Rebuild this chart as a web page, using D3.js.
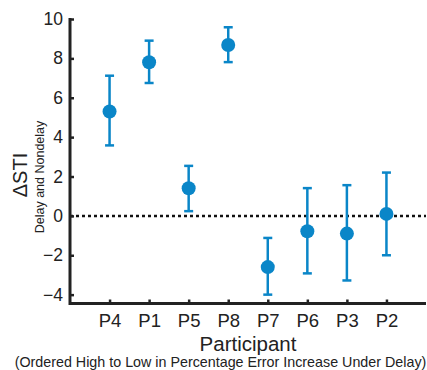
<!DOCTYPE html>
<html>
<head>
<meta charset="utf-8">
<script src="https://cdn.jsdelivr.net/npm/d3@7"></script>
<style>
  body { margin: 0; background: #fff; }
  text { font-family: "Liberation Sans", Arial, sans-serif; }
</style>
</head>
<body>
<svg id="chart" width="427" height="370"></svg>
<script>
// participants, ordered as in the figure
const participants = ["P4", "P1", "P5", "P8", "P7", "P6", "P3", "P2"];
const means = [5.3, 7.8, 1.4, 8.68, -2.6, -0.78, -0.9, 0.1];
const upper = [7.12, 8.9, 2.54, 9.58, -1.12, 1.41, 1.56, 2.2];
const lower = [3.58, 6.75, 0.24, 7.81, -4.0, -2.92, -3.28, -2.0];
const yTicks = [-4, -2, 0, 2, 4, 6, 8, 10];

const blue = "#0a86c8";
const svg = d3.select("#chart");

const x = d3.scaleLinear().domain([0, participants.length + 1]).range([70, 426]);
const y = d3.scaleLinear().domain([-4.45, 10]).range([303.5, 19]);

// zero reference line
svg.append("line")
  .attr("x1", x(0)).attr("x2", x(9))
  .attr("y1", y(0)).attr("y2", y(0))
  .attr("stroke", "#111").attr("stroke-width", 2.5)
  .attr("stroke-dasharray", "3,3");

// y axis
const yAxis = svg.append("g")
  .attr("transform", `translate(${x(0)},0)`)
  .call(d3.axisRight(y).tickValues(yTicks).tickSize(4).tickFormat(d => d < 0 ? "\u2212" + Math.abs(d) : d));
yAxis.select(".domain").remove();
yAxis.selectAll("line").attr("stroke", "#222").attr("stroke-width", 2.5);
yAxis.selectAll("text")
  .attr("x", -7).attr("text-anchor", "end")
  .attr("font-size", 17.5).attr("fill", "#222");

// x axis
const xAxis = svg.append("g")
  .attr("transform", `translate(0,${y(-4.45)})`)
  .call(d3.axisTop(x).tickValues(d3.range(1, participants.length + 1)).tickSize(4)
    .tickFormat(d => participants[d - 1]));
xAxis.select(".domain").remove();
xAxis.selectAll("line").attr("stroke", "#222").attr("stroke-width", 2.5);
xAxis.selectAll("text")
  .attr("y", 23.5).attr("dy", 0)
  .attr("font-size", 18.5).attr("fill", "#222");

// axis lines
svg.append("path")
  .attr("d", `M${x(0)},${y(10) - 1}V${y(-4.45)}H${x(9)}`)
  .attr("fill", "none").attr("stroke", "#222").attr("stroke-width", 3);

// error bars
const g = svg.append("g");
participants.forEach((p, i) => {
  const cx = x(i + 1);
  g.append("line")
    .attr("x1", cx).attr("x2", cx)
    .attr("y1", y(upper[i])).attr("y2", y(lower[i]))
    .attr("stroke", blue).attr("stroke-width", 2.5);
  [upper[i], lower[i]].forEach(v => {
    g.append("line")
      .attr("x1", cx - 4.5).attr("x2", cx + 4.5)
      .attr("y1", y(v)).attr("y2", y(v))
      .attr("stroke", blue).attr("stroke-width", 2.5);
  });
  g.append("circle")
    .attr("cx", cx).attr("cy", y(means[i]))
    .attr("r", 7).attr("fill", blue);
});

// labels
svg.append("text")
  .attr("x", 248).attr("y", 351)
  .attr("text-anchor", "middle").attr("font-size", 20.5).attr("fill", "#222")
  .text("Participant");
svg.append("text")
  .attr("x", 220.5).attr("y", 367)
  .attr("text-anchor", "middle").attr("font-size", 14.3).attr("fill", "#222")
  .text("(Ordered High to Low in Percentage Error Increase Under Delay)");

svg.append("text")
  .attr("transform", "translate(27,175) rotate(-90)")
  .attr("text-anchor", "middle").attr("font-size", 20).attr("fill", "#222")
  .text("\u0394STI");
svg.append("text")
  .attr("transform", "translate(44,177) rotate(-90)")
  .attr("text-anchor", "middle").attr("font-size", 12.5).attr("fill", "#222")
  .text("Delay and Nondelay");
</script>
</body>
</html>
